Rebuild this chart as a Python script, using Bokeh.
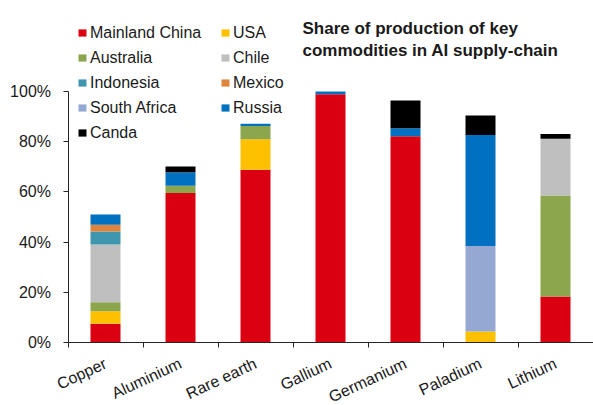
from bokeh.plotting import figure
from bokeh.models import (Range1d, FixedTicker, PrintfTickFormatter, Legend, LegendItem,
                          Label, ColumnDataSource)
from bokeh.embed import file_html
from bokeh.resources import INLINE

commodities = ["Copper", "Aluminium", "Rare earth", "Gallium", "Germanium", "Paladium", "Lithium"]
countries = ["Mainland China", "USA", "Australia", "Chile", "Indonesia", "Mexico",
             "South Africa", "Russia", "Canda"]
china = [7.5, 59.6, 68.8, 98.9, 82.2, 0.0, 18.3]
usa = [5.0, 0.0, 12.2, 0.0, 0.0, 4.4, 0.0]
australia = [3.5, 2.9, 5.3, 0.0, 0.0, 0.0, 40.3]
chile = [23.0, 0.0, 0.0, 0.0, 0.0, 0.0, 22.6]
indonesia = [5.2, 0.0, 0.0, 0.0, 0.0, 0.0, 0.0]
mexico = [2.7, 0.0, 0.0, 0.0, 0.0, 0.0, 0.0]
south_africa = [0.0, 0.0, 0.0, 0.0, 0.0, 34.0, 0.0]
russia = [4.1, 5.3, 0.9, 1.1, 3.2, 44.3, 0.0]
canada = [0.0, 2.3, 0.0, 0.0, 11.0, 7.7, 1.9]
colors = ["#DB0011", "#FFC000", "#8CA64E", "#BFBFBF", "#3F96AE", "#E0833C",
          "#95A8D2", "#0070C0", "#000000"]
y_ticks = [0, 20, 40, 60, 80, 100]
title_lines = ["Share of production of key", "commodities in AI supply-chain"]

FONT = "Liberation Sans"
W, H = 593, 405

keys = ["c%d" % i for i in range(len(countries))]
series = [china, usa, australia, chile, indonesia, mexico, south_africa, russia, canada]
data = {"x": list(range(len(commodities)))}
for k, s in zip(keys, series):
    data[k] = s
source = ColumnDataSource(data)

# frame spans the whole canvas; the axes are placed inside it at fixed data locations
# 0% at y=342 px, 100% at y=91 px; category boundary -0.5 at x=67.5 px, 75 px per category
py = (342 - 91) / 100.0
y_start = -(H - 342) / py
y_end = 100 + 91 / py
px = 75.0
x_start = -0.5 - 67.5 / px
x_end = x_start + W / px

p = figure(width=W, height=H, output_backend="svg", toolbar_location=None,
           x_range=Range1d(x_start, x_end), y_range=Range1d(y_start, y_end),
           min_border_left=0, min_border_right=0, min_border_top=0, min_border_bottom=0)
p.outline_line_color = None
p.xgrid.visible = False
p.ygrid.visible = False
p.background_fill_color = "white"
p.border_fill_color = "white"

renderers = p.vbar_stack(keys, x="x", width=0.4, color=colors, line_color=None, source=source)

n = len(commodities)

# y axis at the left category boundary, bounded to 0..100%
p.yaxis.fixed_location = -0.5
p.yaxis.bounds = (0, 100)
p.yaxis.ticker = FixedTicker(ticks=y_ticks)
p.yaxis.formatter = PrintfTickFormatter(format="%d%%")
p.yaxis.major_tick_out = 5
p.yaxis.major_tick_in = 0
p.yaxis.minor_tick_line_color = None
p.yaxis.major_label_standoff = 12
p.yaxis.major_label_text_font = FONT
p.yaxis.major_label_text_font_size = "16px"
p.yaxis.major_label_text_color = "#1a1a1a"
p.yaxis.axis_line_color = "#262626"
p.yaxis.major_tick_line_color = "#262626"

# x axis at y=0: labels at category centres, small ticks at category boundaries
p.xaxis.fixed_location = 0
p.xaxis.bounds = (-0.5, n - 0.5)
p.xaxis.ticker = FixedTicker(ticks=list(range(n)),
                             minor_ticks=[i - 0.5 for i in range(n + 1)])
p.xaxis.major_label_overrides = {i: c for i, c in enumerate(commodities)}
p.xaxis.major_tick_out = 0
p.xaxis.major_tick_in = 0
p.xaxis.minor_tick_out = 5
p.xaxis.minor_tick_in = 0
p.xaxis.minor_tick_line_color = "#262626"
p.xaxis.major_label_orientation = 0.436
p.xaxis.major_label_standoff = 15
p.xaxis.major_label_text_font = FONT
p.xaxis.major_label_text_font_size = "16px"
p.xaxis.major_label_text_color = "#1a1a1a"
p.xaxis.axis_line_color = "#262626"

items = [LegendItem(label=c, renderers=[r]) for c, r in zip(countries, renderers)]
left_idx = [0, 2, 4, 6, 8]
right_idx = [1, 3, 5, 7]
# legend positions in screen px from the frame's bottom-left corner
for idx, loc in ((left_idx, (77, H - 145)), (right_idx, (220, H - 120))):
    lg = Legend(items=[items[i] for i in idx], location=loc, orientation="vertical",
                glyph_width=10, glyph_height=9, label_standoff=3, label_height=25,
                spacing=0, padding=0, margin=0, border_line_color=None,
                background_fill_alpha=0, label_text_font=FONT,
                label_text_font_size="16px", label_text_color="#1a1a1a")
    p.add_layout(lg, "center")

for line, ytop in zip(title_lines, (27.5, 50)):
    p.add_layout(Label(x=302, y=H - ytop, x_units="screen", y_units="screen", text=line,
                       text_font=FONT, text_font_size="17px", text_font_style="bold",
                       text_color="#1a1a1a", text_align="left", text_baseline="alphabetic"))

open("out.html", "w").write(file_html(p, INLINE))
